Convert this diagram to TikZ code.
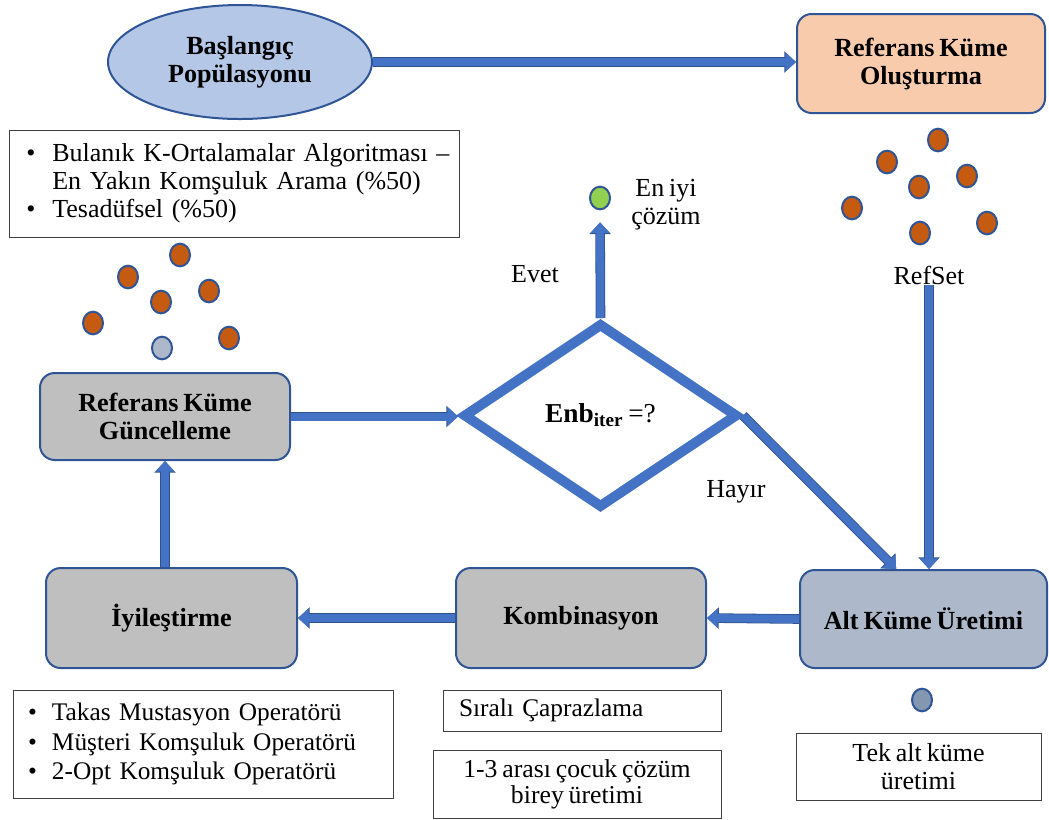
\documentclass[tikz,border=0pt]{standalone}
\usepackage{fontspec}
\setmainfont{Liberation Serif}[WordSpace=0.75]
\usetikzlibrary{shapes.geometric,arrows.meta,calc}

\definecolor{flowblue}{HTML}{4472C4}
\definecolor{flowedge}{HTML}{2F528F}
\definecolor{edgeblue}{HTML}{2F5597}
\definecolor{startfill}{HTML}{B4C7E7}
\definecolor{peach}{HTML}{F8CBAD}
\definecolor{greybox}{HTML}{BFBFBF}
\definecolor{slatebox}{HTML}{ADB9CA}
\definecolor{rust}{HTML}{C55A11}
\definecolor{leaf}{HTML}{92D050}
\definecolor{slatedot}{HTML}{8497B0}

\begin{document}
\begin{tikzpicture}[x=0.75pt,y=-0.75pt,
  every node/.style={font=\fontsize{19.5}{21}\selectfont},
  procbox/.style={draw=edgeblue, line width=1.5pt, rounded corners=11pt,
    font=\bfseries\fontsize{19.6}{21}\selectfont, align=center, inner sep=0pt},
  notebox/.style={draw=black!75, line width=0.75pt, inner ysep=0pt},
  flow/.style={draw=flowblue, line width=6pt,
    -{Triangle[length=8pt,width=14pt]},
    preaction={draw=flowedge, line width=7.2pt,
      -{Triangle[length=8.8pt,width=15.6pt]}}},
  dot/.style={ellipse, draw=edgeblue, line width=1.5pt, minimum width=15pt,
    minimum height=17pt, inner sep=0pt},
  plain/.style={inner sep=0pt}
]
\useasboundingbox (0,0) rectangle (1049,819);

% process stages
\node[ellipse, draw=edgeblue, line width=1.5pt, fill=startfill,
  minimum width=198pt, minimum height=85.5pt, inner sep=0pt,
  font=\bfseries\fontsize{19.6}{21}\selectfont, align=center]
  (start) at (240,62) {Başlangıç\\Popülasyonu};
\node[procbox, fill=peach, minimum width=186pt, minimum height=74.25pt]
  (build) at (921,63.5) {Referans Küme\\Oluşturma};
\node[procbox, fill=greybox, minimum width=187.5pt, minimum height=65.25pt]
  (update) at (165,416.5) {Referans Küme\\Güncelleme};
\node[procbox, fill=greybox, minimum width=188.25pt, minimum height=75pt]
  (improve) at (171.5,618) {İyileştirme};
\node[procbox, fill=greybox, minimum width=187.5pt, minimum height=75pt]
  (combine) at (581,618) {Kombinasyon};
\node[procbox, fill=slatebox, minimum width=185.25pt, minimum height=73.5pt]
  (subset) at (923.5,619) {Alt Küme Üretimi};

% decision
\node[diamond, draw=flowblue, line width=7.5pt, fill=white,
  minimum width=206.25pt, minimum height=138.75pt, inner sep=0pt,
  font=\fontsize{20.5}{22}\selectfont]
  (check) at (600.5,415.5) {\textbf{Enb}\textsubscript{\textbf{iter}} =?};

% initial population cloud
\node[dot, fill=rust] (a1) at (180,255) {};
\node[dot, fill=rust] (a2) at (128,277) {};
\node[dot, fill=rust] (a3) at (161,302) {};
\node[dot, fill=rust] (a4) at (209,291) {};
\node[dot, fill=rust] (a5) at (93,323) {};
\node[dot, fill=rust] (a6) at (229,338) {};
\node[dot, fill=slatebox] (a7) at (162,348) {};

% reference set cloud
\node[dot, fill=rust] (b1) at (938,140) {};
\node[dot, fill=rust] (b2) at (887,162) {};
\node[dot, fill=rust] (b3) at (919,187) {};
\node[dot, fill=rust] (b4) at (967,176) {};
\node[dot, fill=rust] (b5) at (852,208) {};
\node[dot, fill=rust] (b6) at (920,233) {};
\node[dot, fill=rust] (b7) at (987,223) {};
\node[plain] (refset) at (929,275) {RefSet};

% best solution
\node[dot, fill=leaf] (best) at (600,198) {};
\node[plain, align=center] (bestlbl) at (666,205) {En iyi\\çözüm};
\node[plain] (yes) at (535,274) {Evet};
\node[plain] (no) at (736,492) {Hayır};

% single subset marker
\node[dot, fill=slatedot] (single) at (922,700) {};

% notes
\node[notebox, minimum width=337.5pt, minimum height=80.25pt,
  text width=311.5pt, inner xsep=13pt, align=left] (seeding) at (234,183.5)
  {\mbox{\makebox[19.5pt][l]{•}Bulanık K-Ortalamalar Algoritması –}\\
   \mbox{\hspace*{19.5pt}En Yakın Komşuluk Arama (\%50)}\\
   \mbox{\makebox[19.5pt][l]{•}Tesadüfsel (\%50)}};
\node[notebox, minimum width=285pt, minimum height=81pt,
  text width=262.5pt, inner xsep=11.25pt, align=left,
  font=\fontsize{19}{22}\selectfont] (ops) at (203,744)
  {\mbox{\makebox[18pt][l]{•}Takas Mustasyon Operatörü}\\
   \mbox{\makebox[18pt][l]{•}Müşteri Komşuluk Operatörü}\\
   \mbox{\makebox[18pt][l]{•}2-Opt Komşuluk Operatörü}};
\node[notebox, minimum width=208.5pt, minimum height=30.75pt,
  text width=184.5pt, inner xsep=12pt, align=left,
  font=\fontsize{19}{21}\selectfont] (cross) at (582,710.5)
  {Sıralı Çaprazlama};
\node[notebox, minimum width=216pt, minimum height=51pt, align=center,
  font=\fontsize{19.3}{19.5}\selectfont] (children) at (577,784)
  {1-3 arası çocuk çözüm\\birey üretimi};
\node[notebox, minimum width=183.75pt, minimum height=50.25pt, align=center]
  (singlenote) at (918.5,766.5) {Tek alt küme\\üretimi};

% flow connectors
\draw[flow] (start.east) -- (start.east -| build.west);
\draw[flow] (refset.south) -- (refset.south |- subset.north);
\draw[flow] (check.east) -- ($(subset.north west)!0.39!(subset.north east)$);
\draw[flow, shorten >=9pt] (check.north) -- (best.south);
\draw[flow] (update.east) -- (update.east -| check.west);
\draw[flow] (subset.west) -- (combine.east);
\draw[flow] (combine.west) -- (improve.east);
\draw[flow] (update.south |- improve.north) -- (update.south);
\end{tikzpicture}
\end{document}
